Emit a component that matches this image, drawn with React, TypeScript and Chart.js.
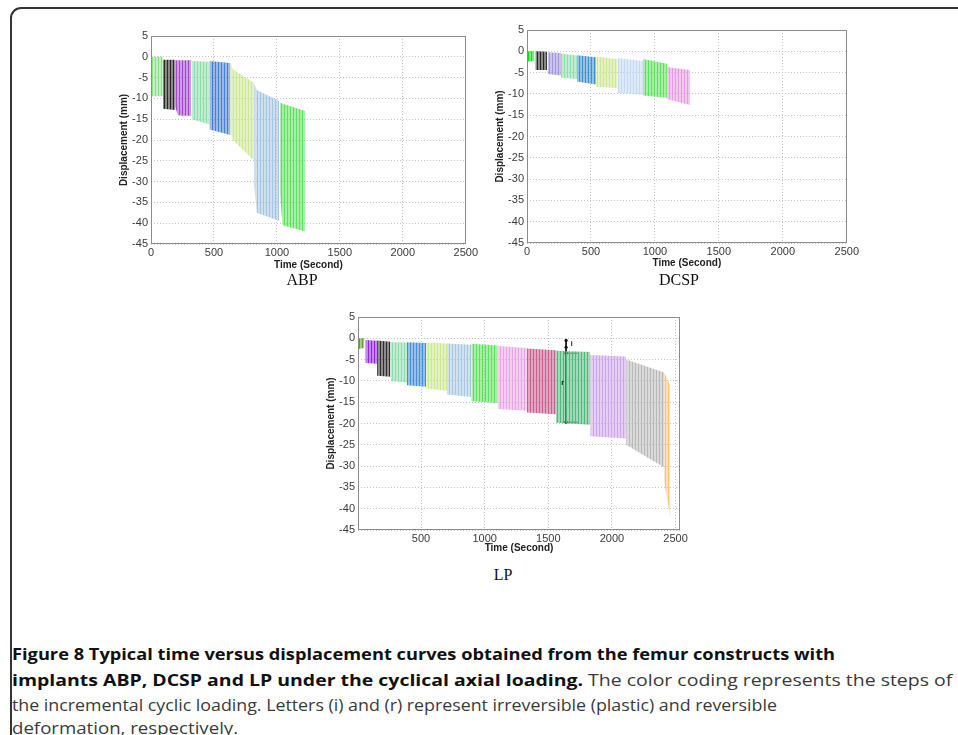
import React, { useEffect, useLayoutEffect, useRef } from "react";
import { Chart, registerables } from "chart.js";
Chart.register(...registerables);

// ---------- axis ticks ----------
const yTickValues = [5, 0, -5, -10, -15, -20, -25, -30, -35, -40, -45];
const xTickValues = [0, 500, 1000, 1500, 2000, 2500];
const lpXTickValues = [500, 1000, 1500, 2000, 2500];

// ---------- ABP (time in s, displacement envelope in mm per loading step) ----------
const abpTimes = [[0, 95], [95, 190], [190, 215, 240, 320], [325, 465], [465, 630], [630, 650, 820], [820, 840, 1020], [1025, 1045, 1225]];
const abpUpper = [[0, 0], [-0.7, -0.7], [-0.8, -0.8, -0.8, -0.8], [-1, -1.2], [-1, -1.5], [-1.3, -3, -6.3], [-6.5, -8, -10.6], [-11, -11.3, -13]];
const abpLower = [[-9.5, -9.5], [-12.5, -12.8], [-12, -14, -14.2, -14.2], [-15, -16.3], [-17.5, -18.8], [-18.5, -20, -25], [-31, -37.5, -39.5], [-33, -40.5, -42]];

// ---------- DCSP ----------
const dcspTimes = [[0, 57], [65, 156], [160, 266], [266, 390], [390, 540], [540, 708], [708, 906], [906, 1094], [1094, 1276]];
const dcspUpper = [[0, 0], [0, -0.1], [-0.2, -0.4], [-0.5, -1], [-0.9, -1.4], [-1.3, -1.8], [-1.6, -2.3], [-1.8, -2.9], [-3.7, -4.4]];
const dcspLower = [[-2.4, -2.2], [-4.4, -4.4], [-5.3, -5.7], [-6.2, -6.5], [-7.1, -7.8], [-8.3, -8.7], [-9.8, -10.2], [-10.4, -10.9], [-11.2, -12.6]];

// ---------- LP ----------
const lpTimes = [[5, 55], [63, 155], [155, 260], [260, 390], [390, 540], [540, 704], [704, 895], [895, 1102], [1102, 1332], [1332, 1560], [1560, 1830], [1830, 2112], [2112, 2410], [2410, 2460]];
const lpUpper = [[0, 0], [-0.4, -0.6], [-0.5, -0.8], [-0.9, -1], [-0.9, -1.1], [-1, -1.2], [-1.2, -1.5], [-1.3, -1.7], [-1.8, -2.3], [-2.4, -2.8], [-2.9, -3.2], [-3.9, -4.3], [-5, -8], [-8, -11]];
const lpLower = [[-2.5, -2.3], [-5.8, -6], [-8.8, -9], [-10, -10.4], [-11, -11.4], [-11.8, -12.3], [-13.2, -13.8], [-14.8, -15.2], [-16.6, -17], [-17.4, -17.8], [-19.8, -20.3], [-23, -23.5], [-25, -30.3], [-33.7, -42.2]];

// LP annotation: irreversible (i) and reversible (r) deformation
const lpMarkTime = 1640;
const lpMarkValues = [-0.5, -2.1, -3.5, -19.7];
const lpMarkLabels = ["i", "r"];
const lpMarkLabelTimes = [1685, 1612];
const lpMarkLabelValues = [-1.4, -10.6];

// ---------- colours (styles) ----------
type RGB = [number, number, number];
const abpColors: RGB[] = [[140, 225, 140], [40, 40, 40], [165, 70, 210], [140, 222, 170], [70, 130, 205], [205, 232, 145], [165, 198, 225], [95, 225, 95]];
const dcspColors: RGB[] = [[0, 225, 0], [40, 40, 40], [160, 150, 215], [140, 222, 170], [60, 145, 210], [205, 232, 145], [195, 218, 240], [95, 225, 95], [230, 155, 225]];
const lpColors: RGB[] = [[95, 160, 30], [150, 35, 230], [45, 45, 45], [140, 222, 170], [70, 140, 215], [205, 232, 145], [170, 200, 225], [95, 225, 95], [232, 165, 228], [200, 95, 140], [80, 185, 125], [205, 165, 235], [185, 185, 185], [240, 200, 130]];

function stripe(ctx: CanvasRenderingContext2D, c: RGB, period: number) {
  const cv = document.createElement("canvas");
  cv.width = period;
  cv.height = 4;
  const g = cv.getContext("2d")!;
  g.fillStyle = `rgba(${c[0]},${c[1]},${c[2]},0.55)`;
  g.fillRect(0, 0, period, 4);
  g.fillStyle = `rgb(${c[0]},${c[1]},${c[2]})`;
  g.fillRect(0, 0, 1, 4);
  return ctx.createPattern(cv, "repeat");
}

const framePlugin = {
  id: "frame",
  afterDatasetsDraw(chart: any) {
    const { ctx, chartArea: a } = chart;
    ctx.save();
    ctx.strokeStyle = "#8c8c8c";
    ctx.lineWidth = 1;
    ctx.strokeRect(Math.round(a.left) + 0.5, Math.round(a.top) + 0.5, Math.round(a.right - a.left) - 1, Math.round(a.bottom - a.top) - 1);
    ctx.restore();
  },
};

const markTextPlugin = {
  id: "markText",
  afterDatasetsDraw(chart: any, _args: any, opts: any) {
    if (!opts || !opts.labels) return;
    const { ctx, scales } = chart;
    ctx.save();
    ctx.fillStyle = "#111";
    ctx.font = "bold 7px 'Liberation Sans', Arial, sans-serif";
    ctx.textAlign = "center";
    ctx.textBaseline = "middle";
    opts.labels.forEach((t: string, i: number) => {
      ctx.fillText(t, scales.x.getPixelForValue(opts.times[i]), scales.y.getPixelForValue(opts.values[i]));
    });
    ctx.restore();
  },
};

type PanelProps = {
  left: number; top: number; width: number; height: number;
  times: number[][]; upper: number[][]; lower: number[][]; colors: RGB[];
  xMin: number; xMax: number; xTicks: number[]; xTitlePad: number; annotate?: boolean;
};

const tickFont = { family: "'Liberation Sans', Arial, sans-serif", size: 11 };
const titleFont = { family: "'Liberation Sans', Arial, sans-serif", size: 10, weight: "bold" as const };

function Panel(p: PanelProps) {
  const ref = useRef<HTMLCanvasElement>(null);
  useEffect(() => {
    const canvas = ref.current!;
    const ctx = canvas.getContext("2d")!;
    const datasets: any[] = [];
    p.times.forEach((ts, i) => {
      datasets.push({
        data: ts.map((t, j) => ({ x: t, y: p.upper[i][j] })),
        borderColor: "rgba(0,0,0,0)", borderWidth: 1, pointRadius: 0, fill: false, tension: 0,
      });
      datasets.push({
        data: ts.map((t, j) => ({ x: t, y: p.lower[i][j] })),
        borderColor: "rgba(0,0,0,0)", borderWidth: 1, pointRadius: 0, fill: "-1", tension: 0,
        backgroundColor: stripe(ctx, p.colors[i], 3),
      });
    });
    if (p.annotate) {
      datasets.push({
        data: lpMarkValues.map((v) => ({ x: lpMarkTime, y: v })),
        borderColor: "#111", borderWidth: 1, pointRadius: 1.6, pointBackgroundColor: "#111", pointBorderWidth: 0, fill: false,
      });
      datasets.push({
        data: [{ x: lpMarkTime, y: lpMarkValues[2] }, { x: lpMarkTime + 90, y: lpMarkValues[2] }],
        borderColor: "#555", borderWidth: 1, pointRadius: 0, fill: false,
      });
      datasets.push({
        data: [{ x: lpMarkTime - 30, y: lpMarkValues[3] }, { x: lpMarkTime + 90, y: lpMarkValues[3] }],
        borderColor: "#555", borderWidth: 1, pointRadius: 0, fill: false,
      });
    }
    const chart = new Chart(canvas, {
      type: "line",
      data: { datasets },
      plugins: [framePlugin, markTextPlugin],
      options: {
        animation: false,
        responsive: false,
        maintainAspectRatio: false,
        layout: { padding: { top: 10, right: 12, left: 0, bottom: 0 } },
        plugins: {
          legend: { display: false },
          tooltip: { enabled: false },
          markText: p.annotate
            ? { labels: lpMarkLabels, times: lpMarkLabelTimes, values: lpMarkLabelValues }
            : {},
        } as any,
        scales: {
          x: {
            type: "linear",
            min: p.xMin,
            max: p.xMax,
            afterBuildTicks: (s: any) => { s.ticks = p.xTicks.map((v) => ({ value: v })); },
            afterFit: (s: any) => { s.height = 32; },
            grid: { color: "#c4c4c4", lineWidth: 1, drawTicks: false },
            border: { display: false, dash: [1, 2] },
            ticks: { font: tickFont, color: "#3a3a3a", padding: 2, maxRotation: 0, autoSkip: false, callback: (v: any) => String(v) },
            title: { display: true, text: "Time (Second)", font: titleFont, color: "#222", padding: { top: 0, bottom: p.xTitlePad } },
          },
          y: {
            type: "linear",
            min: -45,
            max: 5,
            afterBuildTicks: (s: any) => { s.ticks = yTickValues.map((v) => ({ value: v })); },
            afterFit: (s: any) => { s.width = 56; },
            grid: { color: "#c4c4c4", lineWidth: 1, drawTicks: false },
            border: { display: false, dash: [1, 2] },
            ticks: { font: tickFont, color: "#3a3a3a", padding: 3, autoSkip: false, callback: (v: any) => String(v) },
            title: { display: true, text: "Displacement (mm)", font: titleFont, color: "#222", padding: { top: 23, bottom: 0 } },
          },
        },
      },
    });
    return () => chart.destroy();
  }, []);
  return (
    <canvas
      ref={ref}
      width={p.width}
      height={p.height}
      style={{ position: "absolute", left: p.left, top: p.top, width: p.width, height: p.height }}
    />
  );
}

function FitLine({ top, left, width, children }: { top: number; left: number; width: number; children: React.ReactNode }) {
  const ref = useRef<HTMLDivElement>(null);
  useLayoutEffect(() => {
    const el = ref.current!;
    el.style.transform = "none";
    const w = el.scrollWidth;
    if (w > 0) el.style.transform = `scaleX(${width / w})`;
  });
  return (
    <div
      ref={ref}
      style={{
        position: "absolute", top, left, whiteSpace: "nowrap", transformOrigin: "0 0",
        fontFamily: "'Open Sans', 'Noto Sans', sans-serif", fontSize: 16, lineHeight: "26px", color: "#3a3a3a",
      }}
    >
      {children}
    </div>
  );
}

const serif = { fontFamily: "'Liberation Serif', 'Times New Roman', serif", fontSize: 16, color: "#111", position: "absolute" as const, transform: "translate(-50%, -50%)", whiteSpace: "nowrap" as const };

export default function App() {
  return (
    <div style={{ position: "absolute", left: 0, top: 0, width: 958, height: 735, overflow: "hidden", background: "#fff" }}>
      <div style={{ position: "absolute", left: 10, top: 7, width: 1000, height: 800, border: "2px solid #333", borderRadius: 11, boxSizing: "border-box" }} />
      <Panel left={95} top={26} width={385} height={250} times={abpTimes} upper={abpUpper} lower={abpLower} colors={abpColors} xMin={0} xMax={2500} xTicks={xTickValues} xTitlePad={5} />
      <Panel left={471} top={20} width={390} height={255} times={dcspTimes} upper={dcspUpper} lower={dcspLower} colors={dcspColors} xMin={0} xMax={2500} xTicks={xTickValues} xTitlePad={6} />
      <Panel left={302} top={307} width={390} height={255} times={lpTimes} upper={lpUpper} lower={lpLower} colors={lpColors} xMin={5} xMax={2535} xTicks={lpXTickValues} xTitlePad={8} annotate />
      <div style={{ ...serif, left: 302, top: 280 }}>ABP</div>
      <div style={{ ...serif, left: 679, top: 280 }}>DCSP</div>
      <div style={{ ...serif, left: 503, top: 575 }}>LP</div>
      <FitLine top={641} left={12} width={823}>
        <b style={{ color: "#111" }}>Figure 8 Typical time versus displacement curves obtained from the femur constructs with</b>
      </FitLine>
      <FitLine top={667} left={12} width={940}>
        <b style={{ color: "#111" }}>implants ABP, DCSP and LP under the cyclical axial loading.</b> The color coding represents the steps of
      </FitLine>
      <FitLine top={692} left={12} width={765}>
        the incremental cyclic loading. Letters (i) and (r) represent irreversible (plastic) and reversible
      </FitLine>
      <FitLine top={715} left={12} width={226}>
        deformation, respectively.
      </FitLine>
    </div>
  );
}
